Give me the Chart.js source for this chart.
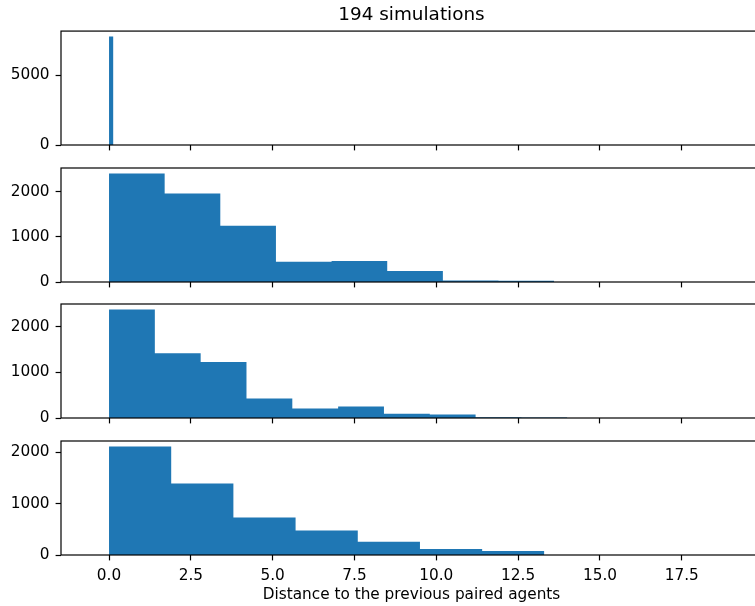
<!DOCTYPE html>
<html>
<head>
<meta charset="utf-8">
<script src="https://cdn.jsdelivr.net/npm/chart.js@4.4.1/dist/chart.umd.min.js"></script>
<style>
  html, body { margin: 0; padding: 0; background: #fff; overflow: hidden; }
  body { width: 755px; height: 606px; position: relative; }
  .panel { position: absolute; left: 0; width: 766px; }
</style>
</head>
<body>
<div class="panel" style="top:0px;height:153px"><canvas id="h1"></canvas></div>
<div class="panel" style="top:166px;height:124px"><canvas id="h2"></canvas></div>
<div class="panel" style="top:302px;height:124px"><canvas id="h3"></canvas></div>
<div class="panel" style="top:439px;height:167px"><canvas id="h4"></canvas></div>
<script>
// bin edges and counts of each histogram
const edges1 = [0, 0.135];
const counts1 = [7760];

const edges2 = [0, 1.7, 3.4, 5.1, 6.8, 8.5, 10.2, 11.9, 13.6];
const counts2 = [2400, 1955, 1245, 450, 465, 245, 35, 25];

const edges3 = [0, 1.4, 2.8, 4.2, 5.6, 7.0, 8.4, 9.8, 11.2, 12.6, 14.0];
const counts3 = [2380, 1420, 1225, 430, 210, 250, 95, 75, 18, 10];

const edges4 = [0, 1.9, 3.8, 5.7, 7.6, 9.5, 11.4, 13.3];
const counts4 = [2115, 1395, 730, 475, 260, 118, 78];

// tick labels
const xTicks = [0, 2.5, 5, 7.5, 10, 12.5, 15, 17.5];
const yTicks1 = [0, 5000];
const yTicks = [0, 1000, 2000];

const titleText = "194 simulations";
const xLabel = "Distance to the previous paired agents";

const FONT = "'DejaVu Sans', sans-serif";
Chart.defaults.font.family = FONT;
Chart.defaults.font.size = 15.3;
Chart.defaults.color = "#000";

const BLUE = "#1f77b4";
const X_MIN = -1.467;
const X_MAX = 19.95;

// draw the full axes box like matplotlib spines
const boxPlugin = {
  id: "box",
  afterDatasetsDraw(chart) {
    const a = chart.chartArea;
    const ctx = chart.ctx;
    ctx.save();
    ctx.strokeStyle = "#000";
    ctx.lineWidth = 1.2;
    ctx.strokeRect(a.left, a.top, a.right - a.left, a.bottom - a.top);
    ctx.restore();
  },
};

// histogram -> stepped points (last edge repeats the last count)
function stepPoints(edges, counts) {
  const pts = counts.map((c, i) => ({ x: edges[i], y: c }));
  pts.push({ x: edges[edges.length - 1], y: counts[counts.length - 1] });
  return pts;
}

// labels must not push the plot area around
function noPad(scale) {
  scale.paddingTop = 0;
  scale.paddingBottom = 0;
  scale.paddingLeft = 0;
  scale.paddingRight = 0;
}

function makeHist(id, edges, counts, yTickVals, opts) {
  const bottom = opts.bottom;
  const ctx = document.getElementById(id).getContext("2d");
  return new Chart(ctx, {
    type: "line",
    data: {
      datasets: [
        {
          data: stepPoints(edges, counts),
          stepped: true,
          fill: "origin",
          backgroundColor: BLUE,
          borderColor: "rgba(0,0,0,0)",
          borderWidth: 0,
          pointRadius: 0,
        },
      ],
    },
    options: {
      responsive: true,
      maintainAspectRatio: false,
      animation: false,
      events: [],
      layout: { padding: { top: opts.padTop, right: 4, left: 0, bottom: 0 } },
      plugins: {
        legend: { display: false },
        tooltip: { enabled: false },
        title: {
          display: !!opts.title,
          text: opts.title || "",
          fullSize: false,
          font: { family: FONT, size: 18.4, weight: "normal" },
          color: "#000",
          padding: { top: 4, bottom: 5 },
        },
      },
      scales: {
        x: {
          type: "linear",
          min: X_MIN,
          max: X_MAX,
          border: { display: false },
          grid: {
            drawOnChartArea: false,
            drawTicks: true,
            tickLength: 5.4,
            tickWidth: 1.2,
            tickColor: "#000",
          },
          ticks: {
            display: bottom,
            padding: 6,
            maxRotation: 0,
            autoSkip: false,
            color: "#000",
            font: { family: FONT, size: 15.3 },
            callback: (v) => Number(v).toFixed(1),
          },
          title: {
            display: bottom,
            text: xLabel,
            font: { family: FONT, size: 15.3 },
            color: "#000",
            padding: { top: 0, bottom: 2 },
          },
          afterBuildTicks: (scale) => {
            scale.ticks = xTicks.map((v) => ({ value: v }));
          },
          afterFit: (scale) => {
            scale.height = bottom ? 51 : 8;
            noPad(scale);
          },
        },
        y: {
          type: "linear",
          min: 0,
          max: Math.max(...counts) * 1.05,
          border: { display: false },
          grid: {
            drawOnChartArea: false,
            drawTicks: true,
            tickLength: 5.4,
            tickWidth: 1.2,
            tickColor: "#000",
          },
          ticks: {
            padding: 6,
            autoSkip: false,
            color: "#000",
            font: { family: FONT, size: 15.3 },
            callback: (v) => String(v),
          },
          afterBuildTicks: (scale) => {
            scale.ticks = yTickVals.map((v) => ({ value: v }));
          },
          afterFit: (scale) => {
            scale.width = 61;
            noPad(scale);
          },
        },
      },
    },
    plugins: [boxPlugin],
  });
}

makeHist("h1", edges1, counts1, yTicks1, { padTop: 0, title: titleText, bottom: false });
makeHist("h2", edges2, counts2, yTicks, { padTop: 2, bottom: false });
makeHist("h3", edges3, counts3, yTicks, { padTop: 2, bottom: false });
makeHist("h4", edges4, counts4, yTicks, { padTop: 2, bottom: true });
</script>
</body>
</html>
